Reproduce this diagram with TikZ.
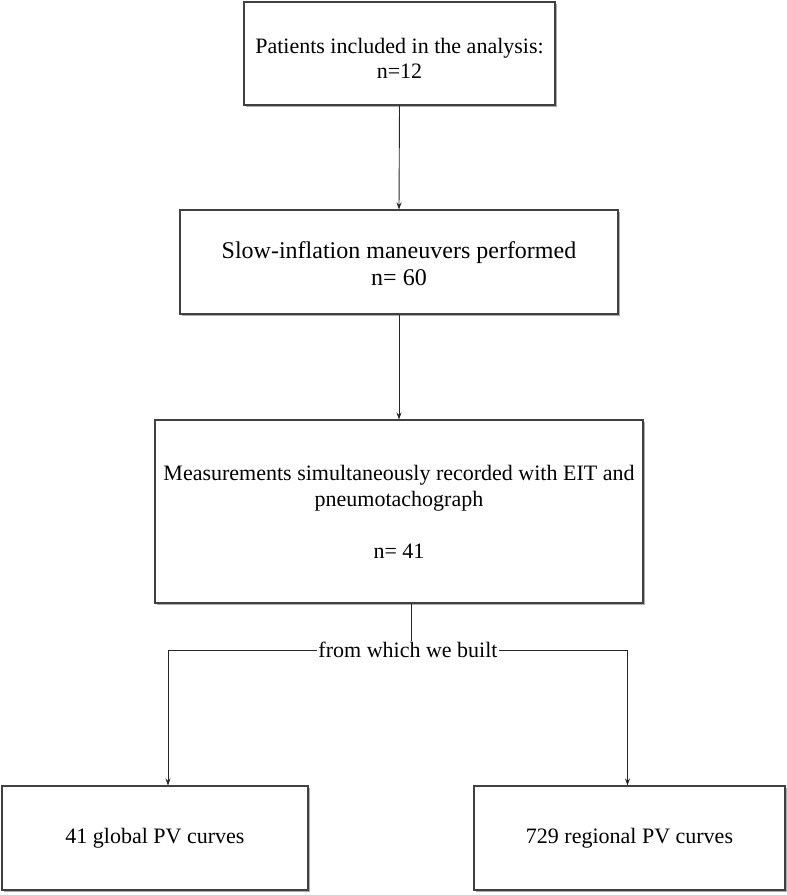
\documentclass[tikz,border=0pt]{standalone}
\usepackage{fontspec}
\setmainfont{Liberation Serif}
\usetikzlibrary{arrows.meta,shadows,calc}
\begin{document}
\begin{tikzpicture}[x=1pt,y=-1pt,
  box/.style={draw=black!75, line width=1.1pt, fill=white, inner sep=0pt,
    drop shadow={shadow xshift=2pt, shadow yshift=-2pt, fill=black!40, opacity=0.8}},
  txt/.style={align=center, inner sep=0pt, font=\fontsize{22}{26}\selectfont},
  conn/.style={draw=black!85, line width=0.9pt},
  arr/.style={conn, -{Stealth[length=7pt,width=5pt]}},
  lbl/.style={font=\fontsize{22}{26}\selectfont, inner sep=1pt}]
\useasboundingbox (0,0) rectangle (787,895);
\node[box, minimum width=311pt, minimum height=103pt] (b1) at (399.5,53.5) {};
\node[txt] (t1) at ([yshift=-5pt]b1.center) {Patients included in the analysis:\\[-1pt]n=12};
\node[box, minimum width=438pt, minimum height=104pt] (b2) at (399,262) {};
\node[txt, font=\fontsize{24}{27}\selectfont] (t2) at ([yshift=-2pt]b2.center)
  {Slow-inflation maneuvers performed\\n= 60};
\node[box, minimum width=488pt, minimum height=183pt] (b3) at (399,511.5) {};
\node[txt] (t3) at (b3.center)
  {Measurements simultaneously recorded with EIT and\\pneumotachograph\\[26pt]n= 41};
\node[box, minimum width=306pt, minimum height=104pt] (b4) at (155,838) {};
\node[txt] (t4) at (b4.center) {41 global PV curves};
\node[box, minimum width=311pt, minimum height=104pt] (b5) at (629.5,838) {};
\node[txt] (t5) at (b5.center) {729 regional PV curves};
\node[lbl] (l) at (408,650) {from which we built};
\draw[arr] (b1.south) -- (b2.north);
\draw[arr] (b2.south) -- (b3.north);
\draw[conn] ([xshift=12pt]b3.south) -- ([xshift=12pt]b3.south |- l.north);
\draw[arr] (l.west) -| ([xshift=13pt]b4.north);
\draw[arr] (l.east) -| ([xshift=-2pt]b5.north);
\end{tikzpicture}
\end{document}
